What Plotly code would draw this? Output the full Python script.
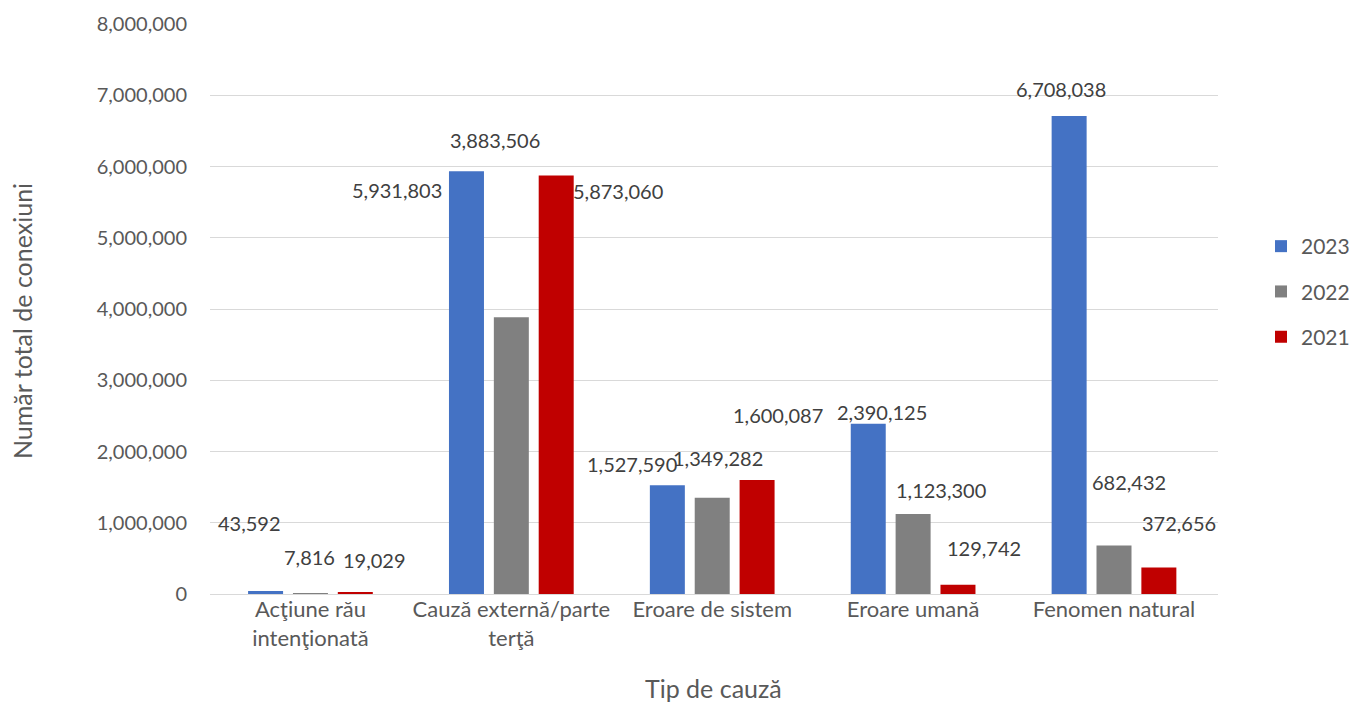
import plotly.graph_objects as go

categories = ["Acţiune rău<br>intenţionată", "Cauză externă/parte<br>terţă", "Eroare de sistem",
              "Eroare umană", "Fenomen natural"]
years = ["2023", "2022", "2021"]
v2023 = [43592, 5931803, 1527590, 2390125, 6708038]
v2022 = [7816, 3883506, 1349282, 1123300, 682432]
v2021 = [19029, 5873060, 1600087, 129742, 372656]
series = [v2023, v2022, v2021]
colors = ["#4472C4", "#808080", "#C00000"]

# label offsets (pixels) relative to category centre / bar top, mimicking the manual placement
label_dx = [[-61, -114, -80, -31, -53],
            [-1, -16, 6, 28, 15],
            [64, 107, 66, 71, 65]]
label_dy = [[68, -19, 21, 12, 27],
            [36, 177, 40, 24, 63],
            [33, -15, 65, 37, 44]]

FONT = "Lato, Open Sans, sans-serif"
fig = go.Figure()
for i, (yr, vals, col) in enumerate(zip(years, series, colors)):
    fig.add_trace(go.Bar(x=categories, y=vals, name=yr, marker_color=col,
                         marker_line_width=0, legendgroup=yr))

annotations = []
for i, vals in enumerate(series):
    for j, v in enumerate(vals):
        annotations.append(dict(x=categories[j], y=v, xref="x", yref="y",
                                text=f"{v:,}", showarrow=False,
                                xshift=label_dx[i][j], yshift=label_dy[i][j],
                                font=dict(family=FONT, size=20, color="#404040")))

annotations.append(dict(x=(713 - 210) / 1008, y=(594 - 688) / 570, xref="paper", yref="paper",
                        xanchor="center", yanchor="middle", text="Tip de cauză", showarrow=False,
                        font=dict(family=FONT, size=25, color="#595959")))
annotations.append(dict(x=(22 - 210) / 1008, y=(594 - 321) / 570, xref="paper", yref="paper",
                        xanchor="center", yanchor="middle",
                        showarrow=False, text="Număr total de conexiuni", textangle=-90,
                        font=dict(family=FONT, size=25, color="#595959")))

fig.update_layout(
    width=1349, height=702,
    margin=dict(l=210, r=131, t=24, b=108),
    paper_bgcolor="white", plot_bgcolor="white",
    barmode="group", bargap=0.33, bargroupgap=0.22,
    font=dict(family=FONT, size=20, color="#595959"),
    showlegend=True,
    legend=dict(xref="container", yref="container", x=1261 / 1349, y=1 - 226 / 702,
                xanchor="left", yanchor="top",
                font=dict(family=FONT, size=21, color="#595959"),
                tracegroupgap=15, itemwidth=30),
    annotations=annotations,
)
fig.update_xaxes(showgrid=False, showline=False, ticks="", automargin=False,
                 tickfont=dict(family=FONT, size=22, color="#595959"))
fig.update_yaxes(range=[0, 8000000], dtick=1000000, tickformat=",", showgrid=True,
                 gridcolor="#D9D9D9", gridwidth=1.3, zeroline=True, zerolinecolor="#D9D9D9",
                 zerolinewidth=1.3, automargin=False, ticklabelstandoff=22,
                 tickfont=dict(family=FONT, size=20, color="#595959"))
fig.write_html("out.html", config={"displayModeBar": False},
               post_script="document.body.style.margin='0';document.body.style.overflow='hidden';")
